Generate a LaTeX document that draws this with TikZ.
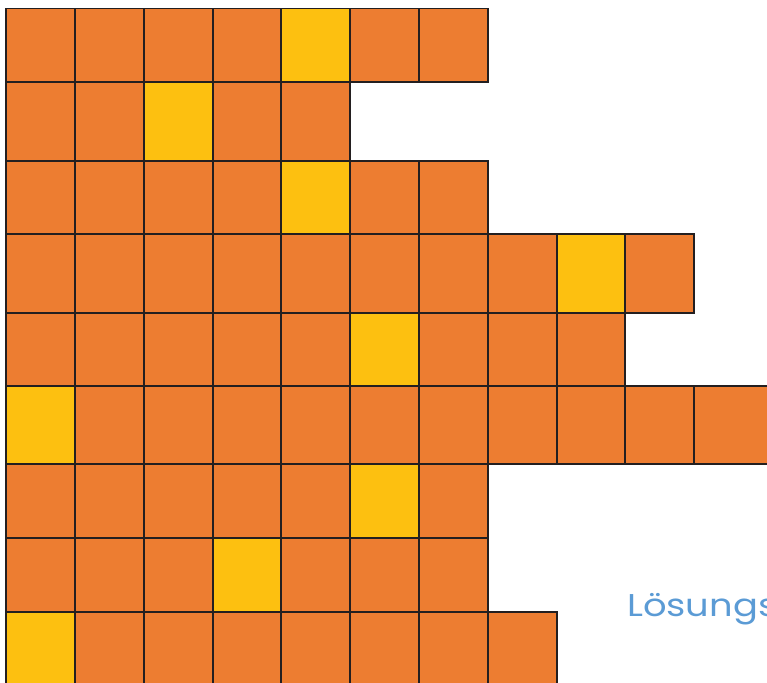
\documentclass[tikz,border=0pt]{standalone}
\usepackage{graphicx}
\usepackage{fontspec}
\newfontfamily\labelfont{Poppins}
\definecolor{cellorange}{HTML}{ED7D31}
\definecolor{cellyellow}{HTML}{FDC010}
\definecolor{gridline}{HTML}{231F20}
\definecolor{labelblue}{HTML}{5B9BD5}
\begin{document}
\begin{tikzpicture}[x=1pt,y=-1pt,
  cell/.style={draw=gridline,line width=1.9pt,fill=cellorange},
  hit/.style={cell,fill=cellyellow}]
\useasboundingbox (0,0) rectangle (767,682);
\clip (0,0) rectangle (767,682);
\foreach \t/\b/\n/\yc/\ext in {
  8.5/81.7/7/5/0,
  81.7/160.7/5/3/0,
  160.7/234/7/5/0,
  234/312.7/10/9/0,
  312.7/385.7/9/6/0,
  385.7/463.7/11/1/1,
  463.7/537.7/7/6/0,
  537.7/611.7/7/4/0,
  611.7/700/8/1/0} {
  \foreach \i in {1,...,\n} {
    \pgfmathsetmacro{\xl}{6.2+68.8*(\i-1)}
    \pgfmathsetmacro{\xr}{(\i==\n && \ext==1) ? 820 : 6.2+68.8*\i}
    \ifnum\i=\yc\relax\def\sty{hit}\else\def\sty{cell}\fi
    \draw[\sty] (\xl,\t) rectangle (\xr,\b);
  }
}
\node[anchor=base west, text=labelblue, inner sep=0pt,
  font=\labelfont\fontsize{31.5}{31.5}\selectfont] (label) at (627,616)
  {\scalebox{1.17}[1]{Lösungs}};
\end{tikzpicture}
\end{document}
